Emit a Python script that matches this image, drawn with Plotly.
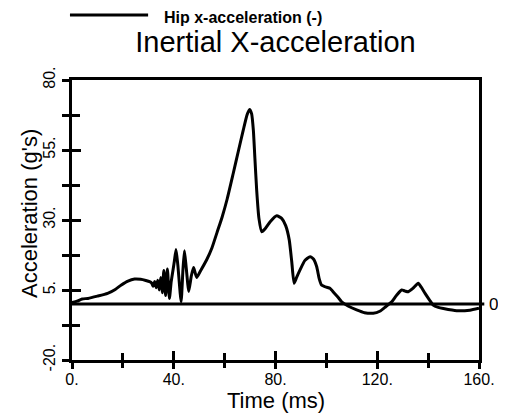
import plotly.graph_objects as go

time_ms = [0, 2, 4, 6.3, 10, 14, 17, 19.4, 22, 24.6, 27, 29, 30.5,
           31.3, 31.9, 32.5, 33.1, 33.7, 34.3, 34.9, 35.5, 36.1, 36.8, 37.5, 38.3,
           39.0, 40.2, 40.9, 41.6, 42.9, 43.6, 44.2, 44.9, 45.9, 46.9, 47.8, 49.0,
           50.5, 52.9, 55, 57, 59, 61, 63.4, 65.5, 67.3, 68.8, 69.8, 70.6, 71.3,
           71.9, 72.6, 73.5, 74.6, 76, 78, 80.5, 82.5, 84, 85.4, 86.4, 87.3, 88.3,
           89.6, 91.5, 93.6, 95, 96.2, 97.2, 98.1, 100, 101.4, 103, 104.5, 106,
           108.5, 111.9, 115, 118.4, 121, 123, 125.7, 127.5, 129.6, 131, 132.2,
           134, 136.1, 137.3, 138.8, 140.5, 142, 144, 146, 151.2, 156.4, 160]
hip_x_accel = [0.5, 1.0, 1.8, 2.0, 2.8, 3.8, 5.2, 6.8, 8.2, 8.9, 8.8, 8.4, 8.0,
               7.5, 6.3, 8.0, 5.8, 8.5, 5.0, 9.5, 4.0, 12.0, 3.0, 12.5, 2.0,
               8.0, 15.0, 19.5, 14.0, 0.8, 12.0, 19.0, 13.0, 4.5, 10.0, 13.0, 9.5,
               11.8, 15.7, 20, 25.5, 31, 37.5, 46.7, 55, 62, 67.5, 69.5, 68, 62,
               52, 40.7, 30.5, 25.8, 27, 29.5, 31.5, 30.5, 28, 22.9, 15, 7.4, 9.5,
               12.1, 15.5, 16.9, 16, 13.3, 9, 6.8, 6, 5.6, 4, 2.5, 0.8,
               -0.7, -2.1, -3.1, -3.3, -2.6, -1.2, 0.8, 3, 5, 4.6, 4.4,
               5.6, 7.4, 6, 3.8, 1.5, -0.4, -1.2, -1.6, -2.4, -2.2, -1.5]

x_major = [0, 40, 80, 120, 160]
x_major_text = ["0.", "40.", "80.", "120.", "160."]
x_minor = [20, 60, 100, 140]
y_major = [-20, 5, 30, 55, 80]
y_major_text = ["-20.", "5.", "30.", "55.", "80."]
y_minor = [-7.5, 17.5, 42.5, 67.5]

FONT = "Liberation Sans, Arial, Helvetica, sans-serif"

# The page body adds an 8px margin, so the figure is sized/offset to compensate.
FIG_W, FIG_H = 498, 409
PLOT_H = 280  # pixel height of the plotting area (t=72, b=57)
PLOT_W = 407
TOP_M = 72

fig = go.Figure()
fig.add_trace(go.Scatter(
    x=time_ms, y=hip_x_accel, mode="lines", name="Hip x-acceleration (-)",
    line=dict(color="black", width=3, shape="spline", smoothing=0.5),
    showlegend=False,
))
# invisible trace registering the overlay axes (inside half of crossing ticks)
fig.add_trace(go.Scatter(x=[None], y=[None], xaxis="x2", yaxis="y2",
                         showlegend=False, hoverinfo="skip"))

tick_style = dict(showgrid=False, zeroline=False, tickcolor="black", tickwidth=3,
                  automargin=False)

fig.update_layout(
    width=FIG_W, height=FIG_H,
    margin=dict(l=64, r=27, t=TOP_M, b=57, pad=0),
    paper_bgcolor="white", plot_bgcolor="white",
    font=dict(family=FONT, color="black"),
    title=dict(text="Inertial X-acceleration", x=0.5, xref="paper",
               y=1 - 34 / FIG_H, yanchor="middle", font=dict(size=29)),
    xaxis=dict(range=[0, 160], tickvals=x_major, ticktext=x_major_text,
               ticks="outside", ticklen=6, showline=True, mirror=True,
               linecolor="black", linewidth=3, ticklabelstandoff=-3,
               minor=dict(tickvals=x_minor, ticks="outside", ticklen=5,
                          tickcolor="black", tickwidth=3),
               tickfont=dict(size=16),
               **tick_style),
    yaxis=dict(range=[-20, 80], tickvals=y_major, ticktext=y_major_text,
               ticks="outside", ticklen=7, tickangle=-90, showline=True, mirror=True,
               linecolor="black", linewidth=3, ticklabelstandoff=1,
               minor=dict(tickvals=y_minor, ticks="outside", ticklen=7,
                          tickcolor="black", tickwidth=3),
               tickfont=dict(size=16),
               **tick_style),
    xaxis2=dict(range=[0, 160], overlaying="x", anchor="y", tickvals=x_major,
                showticklabels=False, ticks="inside", ticklen=9, showline=False,
                minor=dict(tickvals=x_minor, ticks="inside", ticklen=7,
                           tickcolor="black", tickwidth=3),
                **tick_style),
    yaxis2=dict(range=[-20, 80], overlaying="y", anchor="x", tickvals=y_major,
                showticklabels=False, ticks="inside", ticklen=9, showline=False,
                minor=dict(tickvals=y_minor, ticks="inside", ticklen=8,
                           tickcolor="black", tickwidth=3),
                **tick_style),
)

# axis titles placed precisely
fig.add_annotation(text="Time (ms)", xref="paper", yref="paper",
                   x=0.5, y=-(400 - 360) / PLOT_H, xanchor="center", yanchor="middle",
                   showarrow=False, font=dict(size=22), borderpad=0)
fig.add_annotation(text="Acceleration (g's)", xref="paper", yref="paper",
                   x=(29 - 72) / PLOT_W, y=(360 - 214) / PLOT_H, textangle=-90,
                   xanchor="center", yanchor="middle",
                   showarrow=False, font=dict(size=22), borderpad=0)

# zero reference line extending a little past the right frame
fig.add_shape(type="line", xref="paper", yref="y", x0=0, x1=1.013, y0=0, y1=0,
              line=dict(color="black", width=3), layer="above")
fig.add_annotation(text="0", xref="paper", yref="y", x=1.022, y=0,
                   xanchor="left", yanchor="middle", showarrow=False,
                   font=dict(size=17), borderpad=0)

# legend sample (line + label) above the title
LEG_Y = (360 - 15) / PLOT_H
fig.add_shape(type="line", xref="paper", yref="paper",
              x0=-0.005, x1=0.187, y0=LEG_Y, y1=LEG_Y,
              line=dict(color="black", width=3))
fig.add_annotation(text="<b>Hip x-acceleration (-)</b>", xref="paper", yref="paper",
                   x=0.224, y=1 + TOP_M / PLOT_H, xanchor="left", yanchor="top",
                   showarrow=False, font=dict(size=16), borderpad=0)

fig.write_html("out.html")
